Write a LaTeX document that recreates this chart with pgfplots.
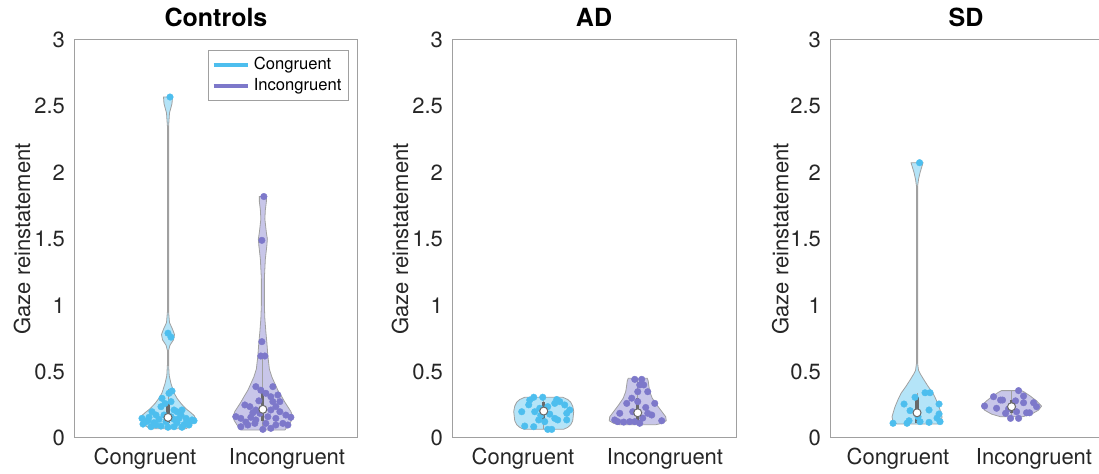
\documentclass[border=0pt]{standalone}
\usepackage{fontspec}
\setmainfont{TeX Gyre Heros}
\usepackage{pgfplots}
\usepackage{pgfplotstable}
\pgfplotsset{compat=1.18}
\definecolor{cong}{RGB}{77,190,238}
\definecolor{incg}{RGB}{125,120,202}
\definecolor{vedge}{RGB}{160,160,160}
\definecolor{bx}{RGB}{105,105,105}
\definecolor{axgray}{RGB}{160,160,160}

% ---------- violin outlines (v = value, w = half width in px) ----------
\pgfplotstableread{
v w
0.07 18
0.085 21
0.10 23
0.125 26
0.15 27.5
0.17 26
0.19 23
0.22 18
0.26 13
0.30 9
0.34 6
0.41 3
0.47 1.2
0.55 0.6
0.66 0.6
0.70 2
0.74 5.5
0.78 6.5
0.82 4.5
0.87 1.5
0.95 0.6
2.35 0.6
2.45 1.5
2.52 4
2.57 4.5
2.57 -4.5
2.52 -4
2.45 -1.5
2.35 -0.6
0.95 -0.6
0.87 -1.5
0.82 -4.5
0.78 -6.5
0.74 -5.5
0.70 -2
0.66 -0.6
0.55 -0.6
0.47 -1.2
0.41 -3
0.34 -6
0.30 -9
0.26 -13
0.22 -18
0.19 -23
0.17 -26
0.15 -27.5
0.125 -26
0.10 -23
0.085 -21
0.07 -18
0.07 18
}\cAshape
\pgfplotstableread{
v w
0.06 22
0.10 26
0.13 28.5
0.16 30
0.20 28
0.235 25
0.27 22
0.31 19
0.36 15
0.41 12
0.46 9
0.52 6.5
0.62 5
0.72 4
0.80 3
0.90 2
1.0 1.5
1.2 1.5
1.35 2.5
1.45 4
1.50 4.5
1.55 3.5
1.65 2
1.72 2.5
1.78 3.5
1.82 3.5
1.82 -3.5
1.78 -3.5
1.72 -2.5
1.65 -2
1.55 -3.5
1.50 -4.5
1.45 -4
1.35 -2.5
1.2 -1.5
1.0 -1.5
0.90 -2
0.80 -3
0.72 -4
0.62 -5
0.52 -6.5
0.46 -9
0.41 -12
0.36 -15
0.31 -19
0.27 -22
0.235 -25
0.20 -28
0.16 -30
0.13 -28.5
0.10 -26
0.06 -22
0.06 22
}\cBshape
\pgfplotstableread{
v w
0.066 20
0.08 24
0.10 27
0.13 29
0.20 30
0.24 29
0.27 27
0.29 24
0.307 19
0.307 -19
0.29 -24
0.27 -27
0.24 -29
0.20 -30
0.13 -29
0.10 -27
0.08 -24
0.066 -20
0.066 20
}\dAshape
\pgfplotstableread{
v w
0.10 18
0.11 24
0.13 28.5
0.16 28
0.20 24
0.25 19
0.30 14.5
0.35 12
0.40 11
0.43 10.5
0.45 9.5
0.45 -9.5
0.43 -10.5
0.40 -11
0.35 -12
0.30 -14.5
0.25 -19
0.20 -24
0.16 -28
0.13 -28.5
0.11 -24
0.10 -18
0.10 18
}\dBshape
\pgfplotstableread{
v w
0.105 20
0.12 24
0.16 25
0.20 23.5
0.236 22
0.29 19
0.337 16
0.39 11
0.437 7
0.48 3.5
0.51 1.5
0.56 0.6
1.90 0.6
1.95 1.5
2.00 3
2.05 5
2.075 6
2.075 -6
2.05 -5
2.00 -3
1.95 -1.5
1.90 -0.6
0.56 -0.6
0.51 -1.5
0.48 -3.5
0.437 -7
0.39 -11
0.337 -16
0.29 -19
0.236 -22
0.20 -23.5
0.16 -25
0.12 -24
0.105 -20
0.105 20
}\sAshape
\pgfplotstableread{
v w
0.16 11
0.18 20
0.21 27
0.24 30
0.28 25
0.32 18
0.345 13
0.357 10
0.357 -10
0.345 -13
0.32 -18
0.28 -25
0.24 -30
0.21 -27
0.18 -20
0.16 -11
0.16 11
}\sBshape

% ---------- individual points (dx in px, v = value) ----------
\pgfplotstableread{
dx v
2 2.57
0 0.79
3 0.76
4 0.354
1 0.337
-6 0.299
3 0.274
-7 0.236
6 0.211
-16 0.198
9 0.198
14 0.211
-12 0.173
-4 0.173
13 0.173
-26 0.148
-19 0.156
-9 0.141
6 0.141
18 0.148
24 0.136
-22 0.123
-14 0.115
-2 0.123
9 0.115
19 0.123
-17 0.085
-7 0.09
0 0.081
6 0.085
14 0.081
-12 0.098
21 0.098
11 0.148
3 0.16
-3 0.26
-20 0.13
16 0.10
26 0.13
-25 0.105
}\cApts
\pgfplotstableread{
dx v
1 1.82
-1 1.49
-1 0.726
-2 0.618
2 0.618
-7 0.387
10 0.387
3 0.337
8 0.311
15 0.324
10 0.274
17 0.274
13 0.236
8 0.211
-13 0.236
-18 0.249
-7 0.211
-10 0.19
-3 0.186
17 0.198
-27 0.161
-22 0.148
-12 0.156
-7 0.136
13 0.148
23 0.173
28 0.156
-15 0.098
-8 0.11
3 0.11
13 0.098
20 0.11
0 0.065
8 0.073
-22 0.085
25 0.098
-4 0.28
5 0.16
-17 0.12
-2 0.36
}\cBpts
\pgfplotstableread{
dx v
-14 0.286
-10 0.307
-1 0.307
13 0.29
16 0.274
11 0.261
21 0.249
26 0.211
23 0.186
4 0.236
-4 0.224
-9 0.198
-22 0.198
1 0.123
-5 0.136
-19 0.09
-10 0.085
4 0.065
8 0.065
11 0.148
14 0.136
23 0.136
-3 0.17
6 0.18
-15 0.25
}\dApts
\pgfplotstableread{
dx v
-3 0.442
4 0.442
2 0.40
6 0.40
0 0.349
10 0.349
-11 0.261
0 0.274
17 0.261
-18 0.186
-5 0.198
10 0.186
14 0.173
-23 0.136
-20 0.123
-8 0.123
-3 0.123
2 0.111
24 0.13
8 0.23
-6 0.30
-14 0.12
5 0.15
}\dBpts
\pgfplotstableread{
dx v
8 0.341
13 0.341
-2 0.307
-13 0.256
22 0.256
-7 0.206
12 0.211
22 0.181
-24 0.111
-10 0.111
3 0.123
12 0.118
23 0.123
-8 0.13
20 0.15
2.5 2.075
1 0.16
}\sApts
\pgfplotstableread{
dx v
7 0.357
-18 0.311
-11 0.286
-9 0.286
12 0.316
12 0.266
22 0.266
-27 0.241
-15 0.224
25 0.236
18 0.19
15 0.19
-6 0.186
5 0.198
-1 0.148
7 0.148
-3 0.22
4 0.28
}\sBpts

\def\pxu{142}
% #1 centre, #2 outline, #3 points, #4 colour, #5 low, #6 q1, #7 median, #8 q3, #9 high
\newcommand{\violin}[9]{%
  \addplot[forget plot, draw=vedge, line width=0.4pt, fill=#4, fill opacity=0.42]
    table[x expr=#1+\thisrow{w}/\pxu, y=v] {#2};
  \addplot[forget plot, only marks, color=#4, mark=*, mark size=1.65pt, mark options={draw=#4, fill=#4, line width=0.2pt}]
    table[x expr=#1+\thisrow{dx}/\pxu, y=v] {#3};
  \addplot[forget plot, draw=vedge, line width=0.5pt] coordinates {(#1,#5) (#1,#9)};
  \addplot[forget plot, draw=bx, line width=1.6pt] coordinates {(#1,#6) (#1,#8)};
  \addplot[forget plot, only marks, color=bx, mark=*, mark size=2pt, mark options={draw=bx, fill=white, line width=0.5pt}]
    coordinates {(#1,#7)};
}

\pgfplotsset{vio/.style={
  scale only axis, width=142pt, height=199pt, anchor=south west,
  xmin=0.5, xmax=2.5, ymin=0, ymax=3,
  xtick={1,2}, xticklabels={Congruent,Incongruent},
  ytick={0,0.5,1,1.5,2,2.5,3},
  major tick length=0pt,
  axis line style={draw=axgray, line width=0.5pt},
  tick label style={font=\fontsize{11}{13}\selectfont, text=black!85},
  /pgf/number format/assume math mode=true,
  xticklabel style={yshift=-1.5pt},
  yticklabel style={xshift=-1pt},
  ylabel={Gaze reinstatement},
  every axis y label/.style={at={(axis description cs:-0.183,0.5)}, rotate=90, anchor=center, font=\fontsize{11}{13}\selectfont, text=black!85},
  every axis title/.style={at={(0.5,1)}, anchor=base, yshift=6.5pt, font=\bfseries\fontsize{12.5}{15}\selectfont},
}}

\begin{document}
\begin{tikzpicture}
\begin{axis}[vio, at={(37pt,18pt)}, title={Controls},
  legend style={at={(0.968,0.975)}, anchor=north east, draw=axgray, font=\fontsize{8.3}{9.5}\selectfont,
    inner sep=1.5pt, row sep=-1pt, cells={anchor=west}},
  legend cell align=left]
\addlegendimage{cong, line width=2pt}\addlegendentry{Congruent}
\addlegendimage{incg, line width=2pt}\addlegendentry{Incongruent}
\violin{1.162}{\cAshape}{\cApts}{cong}{0.07}{0.115}{0.155}{0.27}{0.37}
\violin{1.83}{\cBshape}{\cBpts}{incg}{0.065}{0.13}{0.216}{0.36}{0.62}
\end{axis}
\begin{axis}[vio, at={(226pt,18pt)}, title={AD}]
\violin{1.146}{\dAshape}{\dApts}{cong}{0.065}{0.12}{0.203}{0.27}{0.307}
\violin{1.808}{\dBshape}{\dBpts}{incg}{0.111}{0.12}{0.19}{0.30}{0.442}
\end{axis}
\def\pxu{136}
\begin{axis}[vio, width=136pt, at={(415pt,18pt)}, title={SD}]
\violin{1.14}{\sAshape}{\sApts}{cong}{0.111}{0.115}{0.19}{0.31}{0.341}
\violin{1.835}{\sBshape}{\sBpts}{incg}{0.148}{0.19}{0.236}{0.29}{0.357}
\end{axis}
\pgfresetboundingbox
\path[use as bounding box] (0,0) rectangle (549.5pt,237pt);
\end{tikzpicture}
\end{document}
